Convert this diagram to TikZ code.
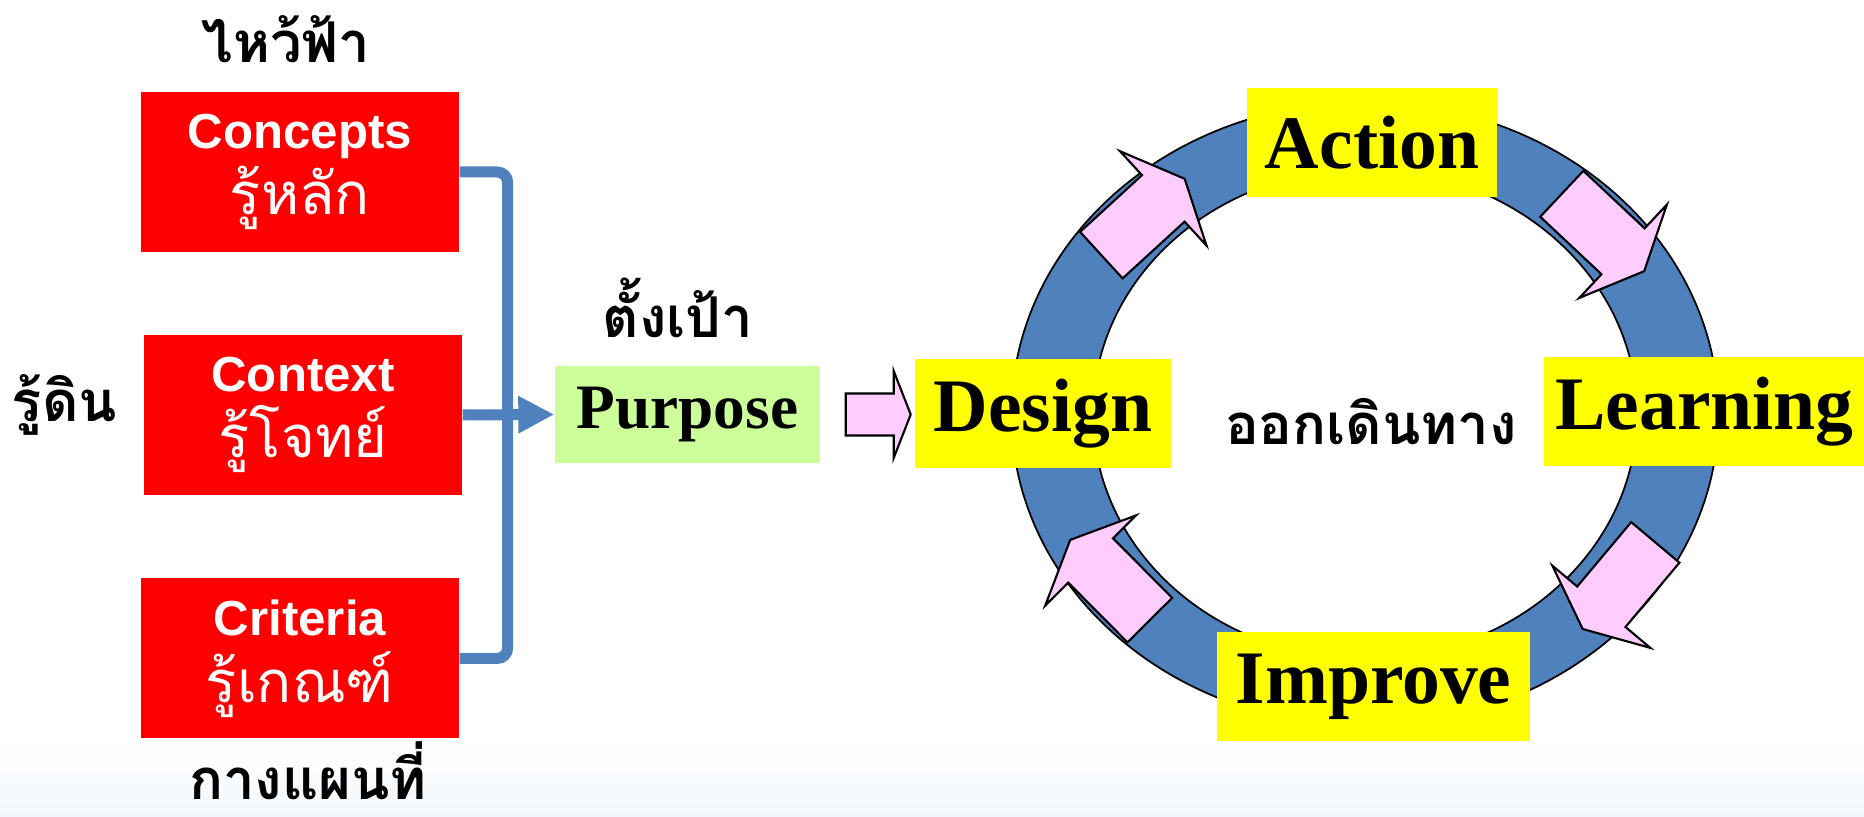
\documentclass[tikz,border=0pt]{standalone}
\usepackage{fontspec}
\setmainfont{Liberation Serif}
\setsansfont{Liberation Sans}
\newfontfamily\thaifont[Script=Thai]{Loma}
\usetikzlibrary{arrows.meta,positioning}

\definecolor{boxred}{HTML}{FF0000}
\definecolor{stageyellow}{HTML}{FFFF00}
\definecolor{goalgreen}{HTML}{CCFF99}
\definecolor{ringblue}{HTML}{4F81BD}
\definecolor{arrowpink}{HTML}{FFCCFF}
\definecolor{slidefade}{HTML}{F1F7FC}

\begin{document}
\begin{tikzpicture}[
  redbox/.style={rectangle, fill=boxred, text=white, minimum width=3.18cm, minimum height=1.6cm,
    align=center, font=\sffamily\bfseries\fontsize{14}{19}\selectfont},
  stagebox/.style={rectangle, fill=stageyellow, minimum height=1.09cm,
    font=\bfseries\fontsize{21.5}{24}\selectfont},
  thailabel/.style={font=\thaifont\bfseries\fontsize{16}{18}\selectfont},
  bracket/.style={line width=0.11cm, draw=ringblue, rounded corners=3pt},
  ring/.style={fill=ringblue, draw=black, line width=0.5pt, even odd rule},
  blockarrow/.style={fill=arrowpink, draw=black, line width=0.6pt, line join=miter},
  ringarrow/.pic={
    \draw[blockarrow] (-0.565,-0.315) -- (0.275,-0.315) -- (0.275,-0.64) -- (0.565,0)
      -- (0.275,0.64) -- (0.275,0.315) -- (-0.565,0.315) -- cycle;
  }
]
\useasboundingbox (0,0) rectangle (18.64,8.17);

% Faint slide background along the bottom edge.
\shade[top color=white, bottom color=slidefade] (0,0) rectangle (18.64,0.75);

% The three inputs.
\node[redbox] (concepts) at (3.00,6.45)
  {Concepts\\{\thaifont\mdseries\fontsize{16.5}{19}\selectfont รู้หลัก}};
\node[redbox] (context) at (3.03,4.02)
  {Context\\{\thaifont\mdseries\fontsize{16.5}{19}\selectfont รู้โจทย์}};
\node[redbox] (criteria) at (3.00,1.585)
  {Criteria\\{\thaifont\mdseries\fontsize{16.5}{19}\selectfont รู้เกณฑ์}};

\node[thailabel, anchor=base] (sky) at (2.86,7.54) {ไหว้ฟ้า};
\node[thailabel, anchor=base] (ground) at (0.645,3.95) {รู้ดิน};
\node[thailabel, anchor=base, inner sep=1pt] (map) at (3.08,0.17) {กางแผนที่};

% Goal.
\node[rectangle, fill=goalgreen, minimum width=2.65cm, minimum height=0.97cm,
  font=\bfseries\fontsize{18}{20}\selectfont] (purpose) at (6.875,4.025) {Purpose};
\node[thailabel, anchor=base] (goal) at (6.78,4.79) {ตั้งเป้า};

% Inputs merge into the goal.
\draw[bracket] (concepts.east) -- ++(0.48,0) |- (criteria.east);
\draw[bracket, -{Triangle[length=0.36cm, width=0.35cm]}] (context.east) -- (purpose.west);

% Cycle ring.
\draw[ring] (13.65,4.03) ellipse [x radius=3.535, y radius=3.12]
  (13.65,4.03) ellipse [x radius=2.72, y radius=2.45];

\pic[rotate=42.5] at (11.43,6.00) {ringarrow};
\pic[rotate=-43.2] at (16.03,5.845) {ringarrow};
\pic[rotate=-130] at (16.19,2.313) {ringarrow};
\pic[rotate=134.8] at (11.10,2.37) {ringarrow};

\node[stagebox, minimum width=2.56cm] (design) at (10.43,4.03) {Design};
\node[stagebox, minimum width=2.50cm] (action) at (13.72,6.745) {Action};
\node[stagebox, minimum width=3.19cm] (learning) at (17.045,4.05) {Learning};
\node[stagebox, minimum width=3.13cm] (improve) at (13.735,1.305) {Improve};

\node[thailabel, anchor=base] (depart) at (13.71,3.72) {ออกเดินทาง};

% Block arrow from the goal into the cycle.
\draw[blockarrow, shift={(purpose.east)}] (0.25,-0.21) -- (0.73,-0.21) -- (0.73,-0.435)
  -- (0.90,0) -- (0.73,0.435) -- (0.73,0.21) -- (0.25,0.21) -- cycle;

\end{tikzpicture}
\end{document}
